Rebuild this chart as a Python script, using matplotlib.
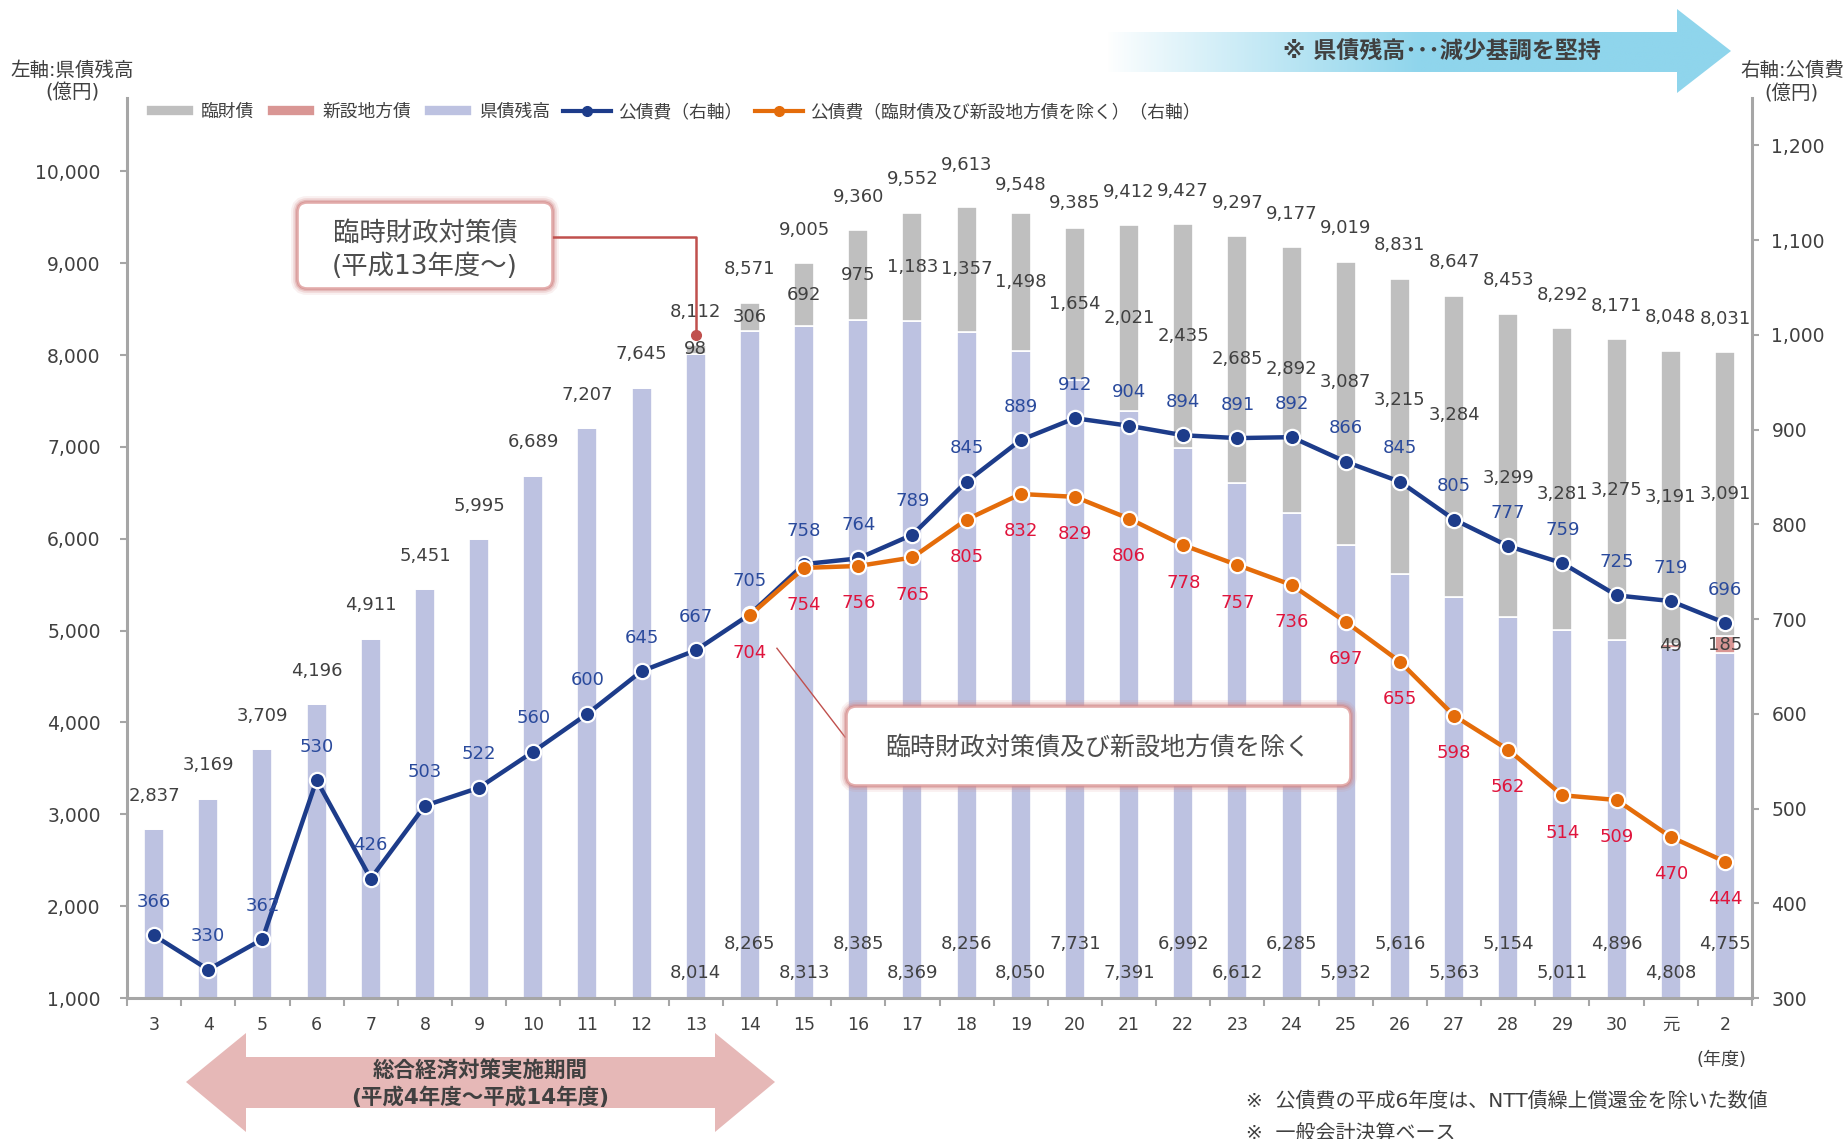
import numpy as np
import matplotlib
matplotlib.use('Agg')
import matplotlib.pyplot as plt
from matplotlib.patches import Polygon, FancyBboxPatch
from matplotlib.lines import Line2D
from matplotlib.colors import to_rgb

plt.rcParams['font.family'] = ['DejaVu Sans', 'Noto Sans CJK JP']

# ---------------- data ----------------
years = ['3', '4', '5', '6', '7', '8', '9', '10', '11', '12', '13', '14', '15', '16',
         '17', '18', '19', '20', '21', '22', '23', '24', '25', '26', '27', '28', '29',
         '30', '元', '2']
kensai = [2837, 3169, 3709, 4196, 4911, 5451, 5995, 6689, 7207, 7645, 8014, 8265, 8313,
          8385, 8369, 8256, 8050, 7731, 7391, 6992, 6612, 6285, 5932, 5616, 5363, 5154,
          5011, 4896, 4808, 4755]
rinzai = [0, 0, 0, 0, 0, 0, 0, 0, 0, 0, 98, 306, 692, 975, 1183, 1357, 1498, 1654, 2021,
          2435, 2685, 2892, 3087, 3215, 3284, 3299, 3281, 3275, 3191, 3091]
shinsetsu = [0] * 28 + [49, 185]
kousaihi = [366, 330, 362, 530, 426, 503, 522, 560, 600, 645, 667, 705, 758, 764, 789,
            845, 889, 912, 904, 894, 891, 892, 866, 845, 805, 777, 759, 725, 719, 696]
kousaihi_ex = [704, 754, 756, 765, 805, 832, 829, 806, 778, 757, 736, 697, 655, 598, 562,
               514, 509, 470, 444]
ex_start = 11          # 公債費（除く）starts at 平成14年度
rinzai_start = 10      # 臨財債 starts at 平成13年度

left_ticks = list(range(1000, 10001, 1000))
right_ticks = list(range(300, 1201, 100))

# label nudges (points, positive = up) to mimic manual placement in the original
total_nudge = {15: 6, 16: -4, 17: -6}
rinzai_nudge = {21: 8, 22: 15, 23: 19, 24: 23, 25: -9, 26: -11}

# ---------------- style ----------------
C_LAV = '#BDC2E1'
C_GRAY = '#BFBFBF'
C_PINK = '#D99694'
C_BLUE = '#1D3C8A'
C_ORANGE = '#E46C0A'
C_TXT = '#404040'
C_BLUE_TXT = '#2A4A9C'
C_RED_TXT = '#E0143C'
C_SPINE = '#A6A6A6'

W, H = 1846, 1139
fig = plt.figure(figsize=(W / 100, H / 100), dpi=100)
L, R, T, B = 127, 1752, 98, 998
ax = fig.add_axes([L / W, 1 - B / H, (R - L) / W, (B - T) / H])
ax2 = ax.twinx()

x = np.arange(len(years))
kensai_a = np.array(kensai)
rinzai_a = np.array(rinzai)
shin_a = np.array(shinsetsu)
total = kensai_a + shin_a + rinzai_a
bw = 0.37

b1 = ax.bar(x, kensai_a, bw, color=C_LAV, edgecolor='white', linewidth=1.2, zorder=2)
b2 = ax.bar(x, shin_a, bw, bottom=kensai_a, color=C_PINK, edgecolor='white',
            linewidth=1.2, zorder=2)
b3 = ax.bar(x, rinzai_a, bw, bottom=kensai_a + shin_a, color=C_GRAY, edgecolor='white',
            linewidth=1.2, zorder=2)

ax.set_xlim(-0.5, len(years) - 0.5)
ax.set_ylim(1000, 10800)
ax2.set_ylim(300, 1250)

# lines
xe = x[ex_start:]
ax2.plot(x, kousaihi, color=C_BLUE, lw=3.2, marker='o', ms=11, mfc=C_BLUE, mec='white',
         mew=1.6, zorder=3)
ax2.plot(xe, kousaihi_ex, color=C_ORANGE, lw=3.2, marker='o', ms=11, mfc=C_ORANGE,
         mec='white', mew=1.6, zorder=4)

# ticks
ax.set_yticks(left_ticks)
ax.set_yticklabels([f'{v:,}' for v in left_ticks])
ax2.set_yticks(right_ticks)
ax2.set_yticklabels([f'{v:,}' for v in right_ticks])
ax.set_xticks(np.arange(-0.5, len(years), 1))
ax.set_xticklabels([])
ax.set_xticks(x, minor=True)
ax.set_xticklabels(years, minor=True)
ax.tick_params(axis='x', which='major', length=6, width=1.5, color=C_SPINE, direction='out')
ax.tick_params(axis='x', which='minor', length=0, pad=13, labelsize=12.5, labelcolor=C_TXT)
ax.tick_params(axis='y', length=5, width=1.5, color=C_SPINE, pad=14, labelsize=13.5,
               labelcolor=C_TXT)
ax2.tick_params(axis='y', length=5, width=1.5, color=C_SPINE, pad=9, labelsize=13.5,
                labelcolor=C_TXT)

for s in ['top', 'right']:
    ax.spines[s].set_visible(False)
for s in ['top', 'left', 'bottom']:
    ax2.spines[s].set_visible(False)
for sp in [ax.spines['left'], ax.spines['bottom'], ax2.spines['right']]:
    sp.set_color(C_SPINE)
    sp.set_linewidth(2.2)

# ---------------- data labels ----------------
FS = 13
for i, v in enumerate(total):
    ax.annotate(f'{v:,}', (i, v), xytext=(0, 24 + total_nudge.get(i, 0)),
                textcoords='offset points', ha='center', va='center', fontsize=FS,
                color=C_TXT, zorder=6)
for i in range(rinzai_start, len(years)):
    mid = kensai_a[i] + shin_a[i] + rinzai_a[i] / 2
    ax.annotate(f'{rinzai_a[i]:,}', (i, mid), xytext=(0, rinzai_nudge.get(i, 0)),
                textcoords='offset points', ha='center', va='center', fontsize=FS,
                color=C_TXT, zorder=6)
    yl = 1275 if (i - rinzai_start) % 2 == 0 else 1590
    ax.text(i, yl, f'{kensai_a[i]:,}', ha='center', va='center', fontsize=FS,
            color=C_TXT, zorder=6)
for i in range(len(years)):
    if shin_a[i] > 0:
        ax.text(i, kensai_a[i] + shin_a[i] / 2, f'{shin_a[i]:,}', ha='center',
                va='center', fontsize=FS, color=C_TXT, zorder=6)
for i, v in enumerate(kousaihi):
    ax2.annotate(f'{v}', (i, v), xytext=(0, 24), textcoords='offset points',
                 ha='center', va='center', fontsize=FS, color=C_BLUE_TXT, zorder=6)
for i, v in zip(xe, kousaihi_ex):
    ax2.annotate(f'{v}', (i, v), xytext=(0, -27), textcoords='offset points',
                 ha='center', va='center', fontsize=FS, color=C_RED_TXT, zorder=6)

# ---------------- legend ----------------
h_blue = Line2D([], [], color=C_BLUE, lw=3, marker='o', ms=7, mfc=C_BLUE, mec=C_BLUE)
h_or = Line2D([], [], color=C_ORANGE, lw=3, marker='o', ms=7, mfc=C_ORANGE, mec=C_ORANGE)
fig.legend([b3, b2, b1, h_blue, h_or],
           ['臨財債', '新設地方債', '県債残高', '公債費（右軸）',
            '公債費（臨財債及び新設地方債を除く）（右軸）'],
           loc='upper left', bbox_to_anchor=(146 / W, 1 - 103 / H), ncol=5, frameon=False,
           fontsize=12.8, handlelength=2.7, handleheight=0.6, handletextpad=0.4,
           columnspacing=0.72, borderpad=0, borderaxespad=0, labelcolor=C_TXT)

# ---------------- overlay (pixel coordinates) ----------------
axo = fig.add_axes([0, 0, 1, 1], zorder=10)
axo.set_xlim(0, W)
axo.set_ylim(H, 0)
axo.axis('off')
axo.patch.set_alpha(0)


def to_px(axis, xy):
    dx, dy = axis.transData.transform(xy)
    return dx, H - dy


# top gradient arrow
top_verts = [(1107, 32), (1677, 32), (1677, 9), (1731, 51), (1677, 93), (1677, 72),
             (1107, 72)]
poly = Polygon(top_verts, closed=True, fc='none', ec='none', transform=axo.transData)
axo.add_patch(poly)
N = 400
xs = np.linspace(1107, 1731, N)
t = np.clip((xs - 1107) / (1420 - 1107), 0, 1) ** 0.9
c0 = np.array([1.0, 1.0, 1.0])
c1 = np.array(to_rgb('#8FD5EC'))
img = (c0[None, :] * (1 - t[:, None]) + c1[None, :] * t[:, None])[None, :, :]
im = axo.imshow(img, extent=(1107, 1731, 93, 9), aspect='auto', interpolation='bilinear',
                zorder=1)
im.set_clip_path(poly)
axo.text(1442, 52, '※ 県債残高･･･減少基調を堅持', fontsize=16.6, fontweight='bold',
         color=C_TXT, ha='center', va='center', zorder=2)

# bottom double arrow
bot_verts = [(186, 1082), (246, 1033), (246, 1057), (715, 1057), (715, 1033), (775, 1082),
             (715, 1132), (715, 1108), (246, 1108), (246, 1132)]
axo.add_patch(Polygon(bot_verts, closed=True, fc='#E6B8B7', ec='none', zorder=1))
axo.text(480, 1071, '総合経済対策実施期間', fontsize=15.5, fontweight='bold', color=C_TXT,
         ha='center', va='center', zorder=2)
axo.text(480, 1097, '(平成4年度～平成14年度)', fontsize=15.5, fontweight='bold',
         color=C_TXT, ha='center', va='center', zorder=2)


def glow_box(x0, y0, x1, y1):
    for lw, a in [(10, 0.12), (7, 0.22), (4.5, 0.4), (2.5, 0.7)]:
        axo.add_patch(FancyBboxPatch((x0, y0), x1 - x0, y1 - y0,
                                     boxstyle='round,pad=0,rounding_size=9',
                                     fc='none', ec='#D48A89', lw=lw, alpha=a, zorder=3))
    axo.add_patch(FancyBboxPatch((x0, y0), x1 - x0, y1 - y0,
                                 boxstyle='round,pad=0,rounding_size=9',
                                 fc='white', ec='#E4AEAD', lw=1.2, zorder=4))


# callout 1
glow_box(298, 203, 552, 288)
axo.text(425, 234, '臨時財政対策債', fontsize=19, color='#4D4D4D', ha='center',
         va='center', zorder=5)
axo.text(425, 267, '(平成13年度～)', fontsize=19, color='#4D4D4D', ha='center',
         va='center', zorder=5)
px13, py13 = to_px(ax, (rinzai_start, total[rinzai_start]))
axo.plot([552, px13, px13], [237, 237, py13 - 10], color='#C0504D', lw=1.8, zorder=3)
axo.plot([px13], [py13 - 10], 'o', color='#C0504D', ms=7, zorder=3)

# callout 2
px14, py14 = to_px(ax2, (ex_start, kousaihi_ex[0]))
axo.plot([px14 + 27, 845], [py14 + 33, 737], color='#C0504D', lw=1.0, zorder=3)
glow_box(847, 707, 1350, 785)
axo.text(1098, 748, '臨時財政対策債及び新設地方債を除く', fontsize=18, color='#4D4D4D',
         ha='center', va='center', zorder=5)

# axis titles & notes
axo.text(72, 70, '左軸:県債残高', fontsize=14, color=C_TXT, ha='center', va='center')
axo.text(72, 93, '(億円)', fontsize=14, color=C_TXT, ha='center', va='center')
axo.text(1740, 70, '右軸:公債費', fontsize=14, color=C_TXT, ha='left', va='center')
axo.text(1791, 94, '(億円)', fontsize=14, color=C_TXT, ha='center', va='center')
axo.text(1721, 1060, '(年度)', fontsize=13, color=C_TXT, ha='center', va='center')
axo.text(1246, 1101, '※  公債費の平成6年度は、NTT債繰上償還金を除いた数値', fontsize=14.4,
         color=C_TXT, ha='left', va='center')
axo.text(1246, 1133, '※  一般会計決算ベース', fontsize=14.4, color=C_TXT, ha='left',
         va='center')

fig.savefig('out.png', dpi=100)
